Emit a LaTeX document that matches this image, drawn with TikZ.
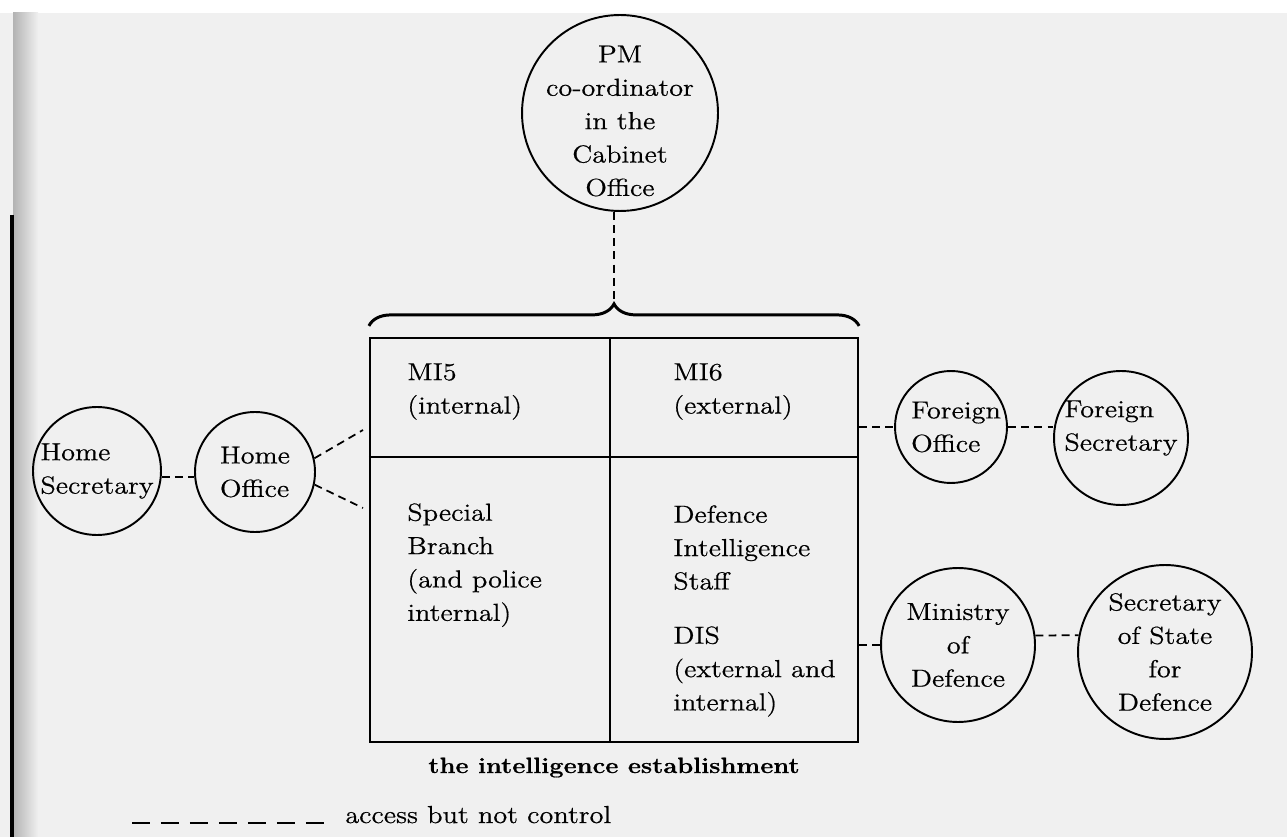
\documentclass[tikz,border=0pt]{standalone}
\usepackage{fontspec}
\setmainfont{Latin Modern Roman}[FakeStretch=1.15, FakeBold=0.6]
\usetikzlibrary{decorations.pathreplacing}

\begin{document}
\begin{tikzpicture}[
  x=0.02cm, y=-0.02cm,
  every node/.style={font=\fontsize{14}{19}\selectfont},
  org/.style={circle, draw=black, line width=1.1pt, inner sep=0pt},
  cell/.style={anchor=north west, align=left, inner sep=0pt},
  access/.style={line width=1pt, dash pattern=on 4.5pt off 3pt}
]
  \useasboundingbox (0,0) rectangle (1287,837);

  % Fondo de la página escaneada
  \fill[black!6] (0,13) rectangle (1287,837);
  \shade[left color=black!30, right color=black!6] (13,13) rectangle (38,837);
  \draw[line width=2pt] (12,215) -- (12,837);

  % Coordinador en la Cabinet Office
  \node[org, minimum size=3.92cm,
    label={[align=center, yshift=-0.16cm]center:PM\\co-ordinator\\in the\\Cabinet\\Office}] (pm) at (620,113) {};

  % Caja del establishment y sus divisiones
  \node[draw=black, line width=1.3pt, minimum width=9.76cm, minimum height=8.08cm, inner sep=0pt] (est) at (614,540) {};
  \draw[line width=1.1pt] ([xshift=-0.08cm]est.north) -- ([xshift=-0.08cm]est.south);
  \draw[line width=1.1pt] (est.west |- 0,457) -- (est.east |- 0,457);

  % Llave sobre la caja
  \draw[decorate, decoration={brace, amplitude=0.44cm}, line width=1.7pt]
    ([yshift=0.22cm]est.north west) -- ([yshift=0.22cm]est.north east);
  \coordinate (tip) at ([yshift=0.66cm]est.north);

  % Textos de las celdas
  \node[cell] (mi5) at (407,363) {MI5\\(internal)};
  \node[cell] (mi6) at (673,363) {MI6\\(external)};
  \node[cell] (sb) at (407,503) {Special\\Branch\\(and police\\internal)};
  \node[cell] (dstaff) at (673,505) {Defence\\Intelligence\\Staff};
  \node[cell] (dis) at (673,626) {DIS\\(external and\\internal)};

  \node[anchor=base, inner sep=0pt, font=\fontsize{12.6}{17}\selectfont\bfseries] (estlabel) at (614,773) {the intelligence establishment};

  % Departamentos y ministros
  \node[org, minimum size=2.56cm, label={[align=left]center:Home\\Secretary}] (hsec) at (97,471) {};
  \node[org, minimum size=2.4cm, label={[align=left]center:Home\\Office}] (hoff) at (255,472) {};
  \node[org, minimum size=2.24cm, label={[align=left, xshift=0.1cm]center:Foreign\\Office}] (fo) at (951,427) {};
  \node[org, minimum size=2.68cm, label={[align=left, yshift=0.2cm]center:Foreign\\Secretary}] (fs) at (1121,438) {};
  \node[org, minimum size=3.08cm, label={[align=center]center:Ministry\\of\\Defence}] (mod) at (958,645) {};
  \node[org, minimum size=3.48cm, label={[align=center]center:Secretary\\of State\\for\\Defence}] (ssd) at (1165,652) {};

  % Puntos de llegada en el borde de la caja
  \coordinate (mi5in) at (363,430);
  \coordinate (sbin) at (363,508);

  % Aristas de acceso
  \draw[access] (tip |- pm.south) -- (tip);
  \draw[access] (hsec.-5) -- (hsec.-5 -| hoff.west);
  \draw[access] (hoff.13) -- (mi5in);
  \draw[access] (hoff.-12) -- (sbin);
  \draw[access] (fo.west -| est.east) -- (fo.west);
  \draw[access] (fo.east) -- (fo.east -| fs.west);
  \draw[access] (mod.west -| est.east) -- (mod.west);
  \draw[access] (mod.7) -- (ssd.169);

  % Leyenda
  \node[anchor=base west, inner sep=0pt] (legend) at (345,823) {access but not control};
  \coordinate (lgstart) at (132,823);
  \draw[line width=1.2pt, dash pattern=on 10pt off 6.5pt] (lgstart) -- ([xshift=-0.24cm]legend.base west);

\end{tikzpicture}
\end{document}
